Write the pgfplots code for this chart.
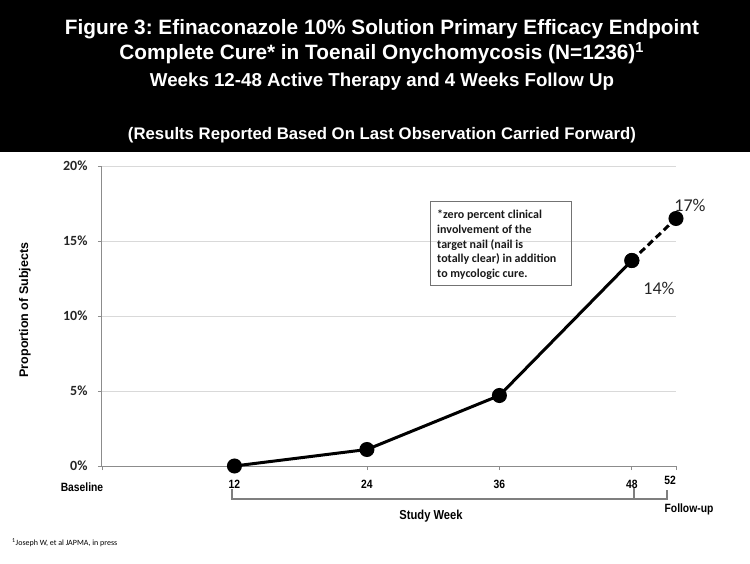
\documentclass[border=0pt]{standalone}
\usepackage{fontspec}
\setmainfont{Liberation Sans}
\newfontfamily\narrow[FakeStretch=0.86]{Liberation Sans}
\newfontfamily\carlito{Carlito}
\usepackage{pgfplots}
\pgfplotsset{compat=1.18}
\definecolor{axgray}{HTML}{8C8C8C}
\definecolor{gridgray}{HTML}{D9D9D9}
\definecolor{brgray}{HTML}{7F7F7F}
\begin{document}
\frenchspacing
\begin{tikzpicture}[x=1pt,y=1pt]
\useasboundingbox (0,0) rectangle (750,563);
\fill[white] (0,0) rectangle (750,563);
\fill[black] (0,411) rectangle (750,563);
% titles
\node[white,inner sep=0pt] at (382,534) {\resizebox{634pt}{!}{\bfseries Figure 3: Efinaconazole 10\% Solution Primary Efficacy Endpoint}};
\node[white,inner sep=0pt] at (382,510) {\resizebox{525pt}{!}{\bfseries Complete Cure* in Toenail Onychomycosis (N=1236)\textsuperscript{1}}};
\node[white,inner sep=0pt] at (382,481) {\resizebox{464pt}{!}{\bfseries Weeks 12-48 Active Therapy and 4 Weeks Follow Up}};
\node[white,inner sep=0pt] at (382,428) {\resizebox{508pt}{!}{\bfseries (Results Reported Based On Last Observation Carried Forward)}};
\begin{axis}[
  at={(102pt,97pt)}, anchor=south west,
  scale only axis, width=574pt, height=300pt,
  xmin=0, xmax=52, ymin=0, ymax=20,
  clip=false,
  axis lines=left,
  axis line style={axgray, line width=1pt, -},
  xtick={0,12,24,36,48,52},
  xticklabels={,12,24,36,48,},
  ytick={0,5,10,15,20},
  yticklabels={0\%,5\%,10\%,15\%,20\%},
  tick align=outside,
  major tick length=4pt,
  tick style={axgray, line width=0.8pt},
  ymajorgrids=true,
  grid style={gridgray, line width=0.8pt},
  xticklabel style={font=\narrow\bfseries\fontsize{12}{13}\selectfont, anchor=center, yshift=-14pt},
  yticklabel style={font=\carlito\bfseries\fontsize{14}{16}\selectfont, text=black!85, anchor=east, xshift=-7pt},
]
\addplot[black, line width=3pt, mark=*, mark size=6pt, mark options={solid}]
  coordinates {(12,0.0) (24,1.1) (36,4.7) (48,13.7)};
\addplot[black, line width=3pt, dash pattern=on 7pt off 4pt, mark=*, mark size=6pt, mark options={solid}]
  coordinates {(48,13.7) (52,16.5)};
\end{axis}
% data labels
\node[font=\carlito\fontsize{18}{20}\selectfont, text=black!85] at (690,358) {17\%};
\node[font=\carlito\fontsize{18}{20}\selectfont, text=black!85] at (659,275) {14\%};
% annotation box
\draw[black!55, line width=1pt] (430,361) rectangle (571,277);
\node[anchor=north west, inner sep=0pt, align=left, font=\carlito\bfseries\fontsize{12}{14.7}\selectfont, text=black!90] at (437,353)
 {*zero percent clinical\\involvement of the\\target nail (nail is\\totally clear) in addition\\to mycologic cure.};
% axis title
\node[rotate=90, font=\bfseries\fontsize{12.5}{14}\selectfont] at (25,253) {Proportion of Subjects};
% extra x labels
\node[font=\narrow\bfseries\fontsize{12}{13}\selectfont] at (82,76) {Baseline};
\node[font=\narrow\bfseries\fontsize{12}{13}\selectfont] at (670,83) {52};
% bracket
\draw[brgray, line width=2pt] (232,74) -- (232,64) -- (667,64) -- (667,73);
\draw[brgray, line width=2.5pt] (634,75) -- (634,64);
\node[font=\narrow\bfseries\fontsize{13}{15}\selectfont] at (431,47) {Study Week};
\node[font=\narrow\bfseries\fontsize{12}{14}\selectfont] at (689,54) {Follow-up};
% footnote
\node[anchor=west, inner sep=0pt, font=\carlito\fontsize{8}{9}\selectfont] at (12,20) {\textsuperscript{1}Joseph W, et al JAPMA, in press};
\end{tikzpicture}
\end{document}
